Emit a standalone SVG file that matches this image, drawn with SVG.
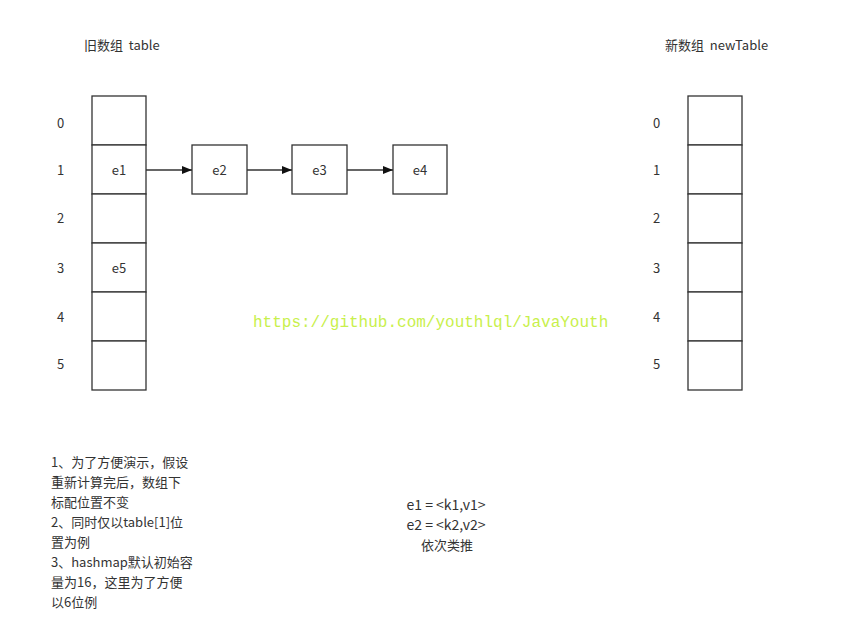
<svg xmlns="http://www.w3.org/2000/svg" width="861" height="640" viewBox="0 0 861 640">
<defs>
<style>
.t{font-family:"Noto Sans CJK SC","Noto Sans",sans-serif;font-size:13px;fill:#333}
.c{text-anchor:middle}
.lg{font-size:14px}
.box{fill:#fff;stroke:#333;stroke-width:1.3}
.ln{stroke:#333;stroke-width:1.3;fill:none}
</style>
<marker id="ah" markerWidth="10" markerHeight="8" refX="10" refY="4" orient="auto" markerUnits="userSpaceOnUse">
<path d="M0,0 L10,4 L0,8 Z" fill="#111"/>
</marker>
</defs>
<rect width="861" height="640" fill="#fff"/>
<text class="t" x="84" y="50">旧数组&#160;&#160;table</text>
<text class="t" x="665" y="50">新数组&#160;&#160;newTable</text>
<g id="old-table">
<rect class="box" x="92" y="96" width="54" height="49"/>
<rect class="box" x="92" y="145" width="54" height="49"/>
<rect class="box" x="92" y="194" width="54" height="49"/>
<rect class="box" x="92" y="243" width="54" height="49"/>
<rect class="box" x="92" y="292" width="54" height="49"/>
<rect class="box" x="92" y="341" width="54" height="49"/>
<text class="t c" x="119" y="175">e1</text>
<text class="t c" x="119" y="273">e5</text>
<text class="t" x="57" y="128">0</text>
<text class="t" x="57" y="175">1</text>
<text class="t" x="57" y="223">2</text>
<text class="t" x="57" y="273">3</text>
<text class="t" x="57" y="322">4</text>
<text class="t" x="57" y="369">5</text>
</g>
<g id="e2"><rect class="box" x="192" y="145" width="55" height="49"/><text class="t c" x="219.5" y="175">e2</text></g>
<g id="e3"><rect class="box" x="292" y="145" width="55" height="49"/><text class="t c" x="319.5" y="175">e3</text></g>
<g id="e4"><rect class="box" x="393" y="145" width="54" height="49"/><text class="t c" x="420" y="175">e4</text></g>
<g id="connectors">
<line class="ln" x1="146" y1="170" x2="192" y2="170" marker-end="url(#ah)"/>
<line class="ln" x1="247" y1="170" x2="292" y2="170" marker-end="url(#ah)"/>
<line class="ln" x1="347" y1="170" x2="393" y2="170" marker-end="url(#ah)"/>
</g>
<g id="new-table">
<rect class="box" x="688" y="96" width="54" height="49"/>
<rect class="box" x="688" y="145" width="54" height="49"/>
<rect class="box" x="688" y="194" width="54" height="49"/>
<rect class="box" x="688" y="243" width="54" height="49"/>
<rect class="box" x="688" y="292" width="54" height="49"/>
<rect class="box" x="688" y="341" width="54" height="49"/>
<text class="t" x="653" y="128">0</text>
<text class="t" x="653" y="175">1</text>
<text class="t" x="653" y="223">2</text>
<text class="t" x="653" y="273">3</text>
<text class="t" x="653" y="322">4</text>
<text class="t" x="653" y="369">5</text>
</g>
<text x="253" y="327" font-family="'Liberation Mono',monospace" font-size="16" fill="#c8f04c">https://github.com/youthlql/JavaYouth</text>
<g id="notes">
<text class="t" x="51" y="467">1、为了方便演示，假设</text>
<text class="t" x="51" y="487">重新计算完后，数组下</text>
<text class="t" x="51" y="507">标配位置不变</text>
<text class="t" x="51" y="527">2、同时仅以table[1]位</text>
<text class="t" x="51" y="547">置为例</text>
<text class="t" x="51" y="567">3、hashmap默认初始容</text>
<text class="t" x="51" y="587">量为16，这里为了方便</text>
<text class="t" x="51" y="607">以6位例</text>
</g>
<g id="legend">
<text class="t c lg" x="446" y="510">e1 = &lt;k1,v1&gt;</text>
<text class="t c lg" x="446" y="530">e2 = &lt;k2,v2&gt;</text>
<text class="t c" x="447" y="550">依次类推</text>
</g>
</svg>
